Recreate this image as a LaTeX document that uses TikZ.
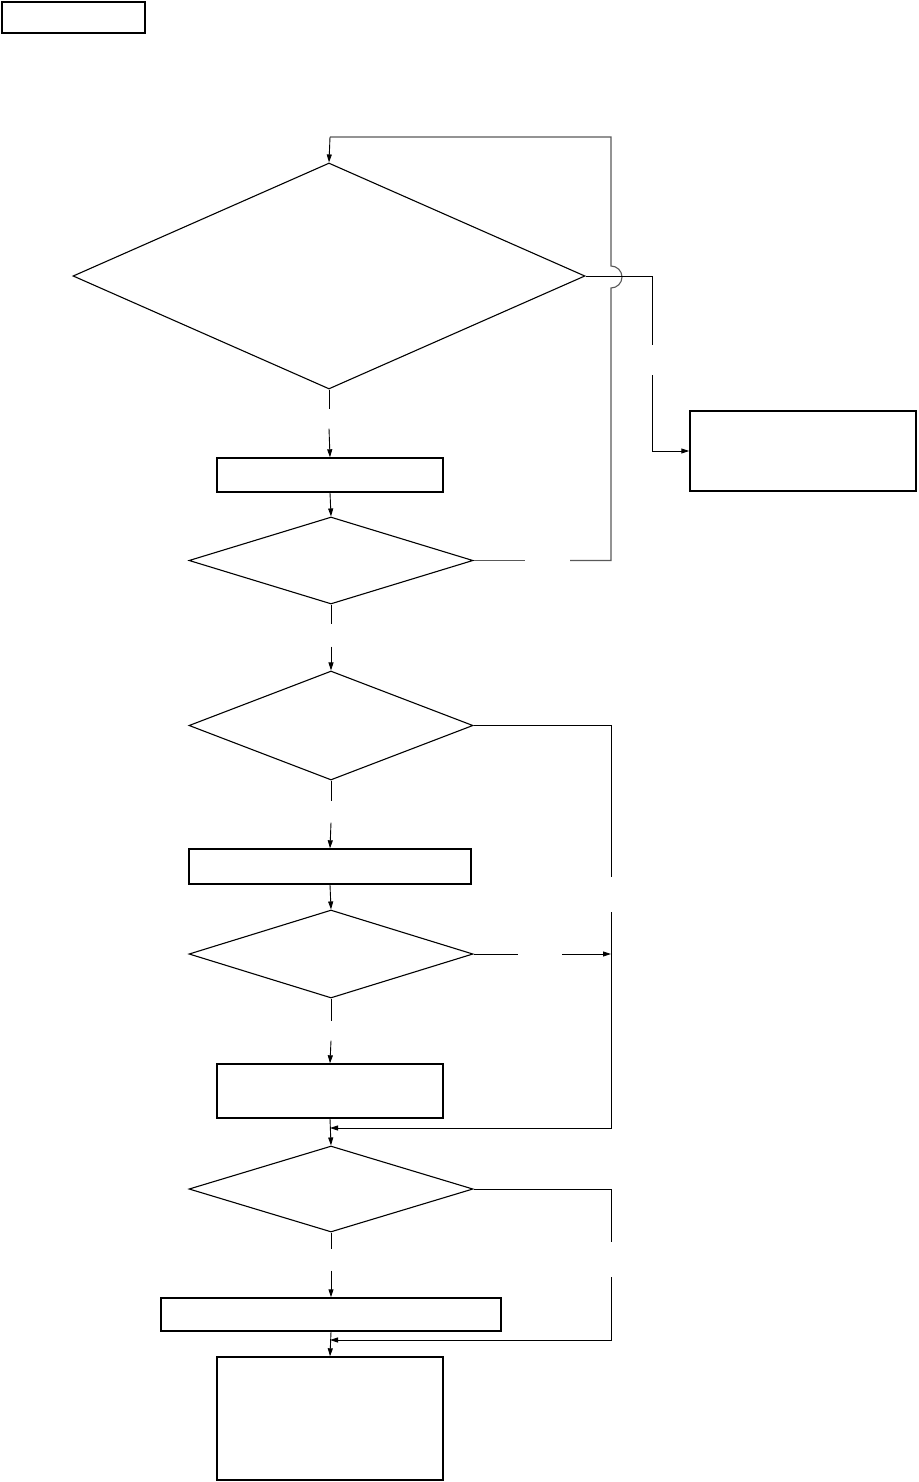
\documentclass[tikz,border=0pt]{standalone}
\usepackage{tikz}
\usetikzlibrary{arrows.meta}
\usetikzlibrary{shapes.geometric, positioning, calc}

\begin{document}
\begin{tikzpicture}[x=1pt, y=-1pt,
    box/.style={rectangle, draw, line width=1.4pt, inner sep=0pt},
    dec/.style={diamond, draw, line width=1.1pt, inner sep=0pt, aspect=2},
    line/.style={line width=0.9pt},
    arr/.style={line width=0.9pt, -{Triangle[length=8pt, width=5pt]}},
    back/.style={line width=1.1pt, black!65}]
  \useasboundingbox (0,0) rectangle (918,1482);

  % Header box
  \node[box, minimum width=143pt, minimum height=31pt] (head) at (73.5,17.5) {};

  % Decisions and steps (main column)
  \node[dec, minimum width=512pt, minimum height=226pt] (d1) at (329,276) {};
  \node[box, minimum width=226pt, minimum height=34pt] (b1) at (330,475) {};
  \node[dec, minimum width=284pt, minimum height=87pt] (d2) at (331,560.5) {};
  \node[dec, minimum width=284pt, minimum height=109pt] (d3) at (331,725.5) {};
  \node[box, minimum width=282pt, minimum height=35pt] (b2) at (330,866.5) {};
  \node[dec, minimum width=284pt, minimum height=88pt] (d4) at (331,954) {};
  \node[box, minimum width=226pt, minimum height=54pt] (b3) at (330,1091) {};
  \node[dec, minimum width=284pt, minimum height=86pt] (d5) at (331,1189) {};
  \node[box, minimum width=340pt, minimum height=33pt] (b4) at (331,1314.5) {};
  \node[box, minimum width=226pt, minimum height=123pt] (b5) at (330,1418.5) {};

  % Side step
  \node[box, minimum width=226pt, minimum height=80pt] (rb) at (803,451) {};

  % Joins on the main column
  \coordinate (j1) at (330,1128);
  \coordinate (j2) at (330,1340);
  \coordinate (top) at (330,137);

  % Down the main column (gaps where the branch labels sit)
  \draw[line] (d1.south) -- ++(0,19);
  \draw[arr] (d1.south) ++(0,39) -- (b1.north);
  \draw[arr] (b1.south) -- (d2.north);
  \draw[line] (d2.south) -- ++(0,19);
  \draw[arr] (d2.south) ++(0,42) -- (d3.north);
  \draw[line] (d3.south) -- ++(0,20);
  \draw[arr] (d3.south) ++(0,42) -- (b2.north);
  \draw[arr] (b2.south) -- (d4.north);
  \draw[line] (d4.south) -- ++(0,22);
  \draw[arr] (d4.south) ++(0,42) -- (b3.north);
  \draw[arr] (b3.south) -- (d5.north);
  \draw[line] (d5.south) -- ++(0,16);
  \draw[arr] (d5.south) ++(0,38) -- (b4.north);
  \draw[arr] (b4.south) -- (b5.north);

  % Loop back to the top (gray)
  \draw[back] (d2.east) -- (525,560.5);
  \draw[back] (570,560.5) -- (611,560.5) -- (611,288)
    arc[start angle=-90, end angle=90, radius=11pt] -- (611,137) -- (top);
  \draw[arr] (top) -- (d1.north);

  % Branch to the side step
  \draw[line] (d1.east) -- (652,276) -- (652,345);
  \draw[arr] (652,375) -- (652,451) -- (rb.west);

  % Skip branches on the right
  \draw[line] (d3.east) -- (611,725.5) -- (611,877);
  \draw[arr] (611,912) -- (611,1128) -- (j1);
  \draw[line] (d4.east) -- (518,954);
  \draw[arr] (562,954) -- (611,954);
  \draw[line] (d5.east) -- (611,1189) -- (611,1242);
  \draw[arr] (611,1277) -- (611,1340) -- (j2);
\end{tikzpicture}
\end{document}
